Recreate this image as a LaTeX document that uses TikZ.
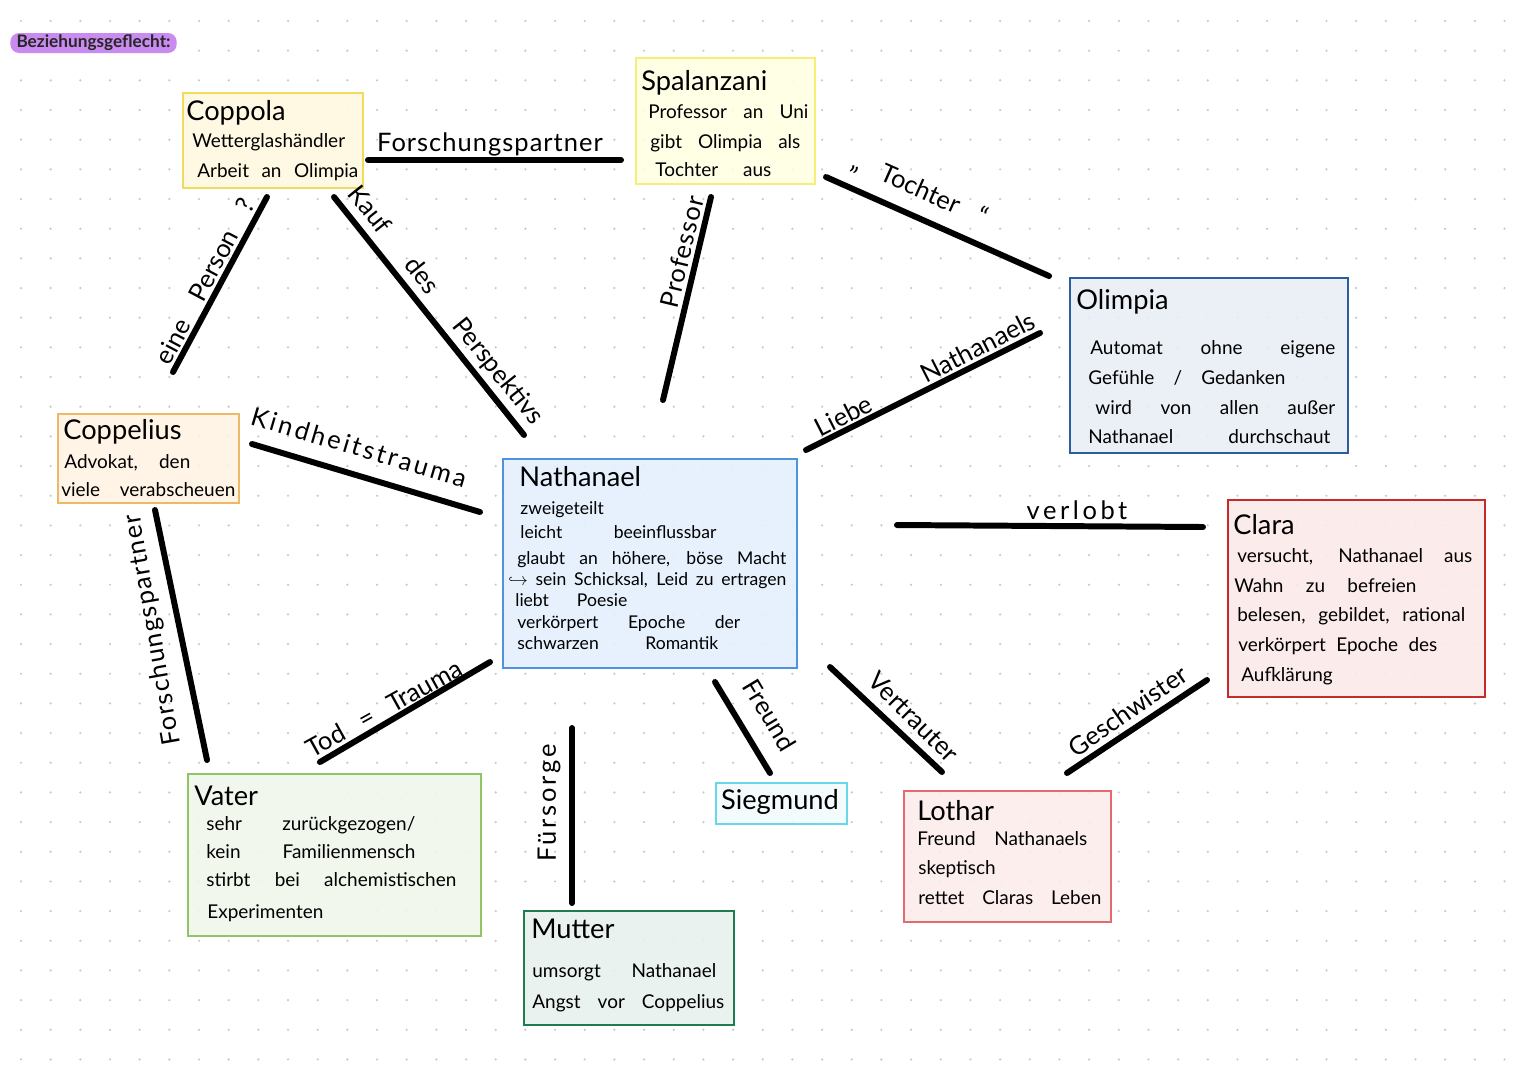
\documentclass[tikz,border=0pt]{standalone}
\usepackage{fontspec}
\setmainfont{Lato}
\newdimen\pxu \pxu=0.02cm
\newcommand{\sw}[2]{\makebox[#1\pxu][s]{#2}}
\newcommand{\lsp}[2]{{\addfontfeatures{LetterSpace=#1}#2}}
\definecolor{dotc}{HTML}{C9C9C9}
\definecolor{pillc}{HTML}{C98BEF}
\definecolor{cpF}{HTML}{FFF9E0}\definecolor{cpD}{HTML}{F2DA5C}
\definecolor{spF}{HTML}{FFFFE3}\definecolor{spD}{HTML}{F6EE78}
\definecolor{olF}{HTML}{E9EEF5}\definecolor{olD}{HTML}{2C5E9E}
\definecolor{ceF}{HTML}{FFF3E3}\definecolor{ceD}{HTML}{EFB866}
\definecolor{naF}{HTML}{E4F0FD}\definecolor{naD}{HTML}{4C95DE}
\definecolor{clF}{HTML}{FCE9E9}\definecolor{clD}{HTML}{C62A2A}
\definecolor{vaF}{HTML}{F1F7EB}\definecolor{vaD}{HTML}{8FC565}
\definecolor{muF}{HTML}{E7F1EC}\definecolor{muD}{HTML}{1F7B52}
\definecolor{siF}{HTML}{F2FBFD}\definecolor{siD}{HTML}{6AD6EC}
\definecolor{loF}{HTML}{FDECEC}\definecolor{loD}{HTML}{E46A72}
\tikzset{
  box/.style={rectangle, anchor=north west, line width=1.1pt, inner sep=0pt, fill opacity=0.88},
  ttl/.style={anchor=base west, inner sep=0pt, font=\fontsize{15.5}{18}\selectfont},
  txt/.style={anchor=base west, inner sep=0pt, font=\fontsize{10.8}{12}\selectfont},
  stxt/.style={anchor=base west, inner sep=0pt, font=\fontsize{10}{11}\selectfont},
  lbl/.style={inner sep=0pt, font=\fontsize{14.5}{16}\selectfont},
  conn/.style={line width=3.4pt, line cap=round, black},
}
\begin{document}
\begin{tikzpicture}[x=0.02cm, y=-0.02cm]
\useasboundingbox (0,0) rectangle (1525,1080);
\fill[white] (0,0) rectangle (1525,1080);
% dot grid
\foreach \i in {0,...,50}{\foreach \j in {0,...,35}{
  \fill[dotc] (21+\i*29.67, 21+\j*29.67) circle[radius=0.7pt];}}
% title pill
\node[fill=pillc, rounded corners=5pt, anchor=west, minimum height=20\pxu, inner xsep=3.5pt, inner ysep=0pt,
  font=\fontsize{9.8}{11}\selectfont\bfseries, text=black!85] (pill) at (10,43) {Beziehungsgeflecht:};

% boxes
\node[box, fill=cpF, draw=cpD, minimum width=180\pxu, minimum height=95\pxu] (coppola) at (182,92) {};
\node[box, fill=spF, draw=spD, minimum width=179\pxu, minimum height=126\pxu] (spal) at (635,57) {};
\node[box, fill=olF, draw=olD, minimum width=278\pxu, minimum height=175\pxu] (olimpia) at (1069,277) {};
\node[box, fill=ceF, draw=ceD, minimum width=181\pxu, minimum height=89\pxu] (coppel) at (57,413) {};
\node[box, fill=naF, draw=naD, minimum width=294\pxu, minimum height=209\pxu] (nath) at (502,458) {};
\node[box, fill=clF, draw=clD, minimum width=257\pxu, minimum height=197\pxu] (clara) at (1227,499) {};
\node[box, fill=vaF, draw=vaD, minimum width=293\pxu, minimum height=162\pxu] (vater) at (187,773) {};
\node[box, fill=muF, draw=muD, minimum width=210\pxu, minimum height=114\pxu] (mutter) at (523,910) {};
\node[box, fill=siF, draw=siD, minimum width=131\pxu, minimum height=41\pxu] (sieg) at (715,782) {};
\node[box, fill=loF, draw=loD, minimum width=207\pxu, minimum height=131\pxu] (lothar) at (903,790) {};

% Coppola text
\node[ttl] (cpT) at (186,120) {Coppola};
\node[txt] (cp1) at (192,147) {Wetterglashändler};
\node[txt] (cp2) at (197,177) {\sw{161}{Arbeit an Olimpia}};
% Spalanzani text
\node[ttl] (spT) at (641,90) {Spalanzani};
\node[txt] (sp1) at (648,118) {\sw{160}{Professor an Uni}};
\node[txt] (sp2) at (650,148) {\sw{150}{gibt Olimpia als}};
\node[txt] (sp3) at (655,176) {\sw{116}{Tochter aus}};
% Olimpia text
\node[ttl] (olT) at (1076,309) {Olimpia};
\node[txt] (ol1) at (1090,354) {\sw{245}{Automat ohne eigene}};
\node[txt] (ol2) at (1088,384) {\sw{197}{Gefühle / Gedanken}};
\node[txt] (ol3) at (1095,414) {\sw{240}{wird von allen außer}};
\node[txt] (ol4) at (1088,443) {\sw{242}{Nathanael durchschaut}};
% Coppelius text
\node[ttl] (ceT) at (63,439) {Coppelius};
\node[txt] (ce1) at (64,468) {\sw{126}{Advokat, den}};
\node[txt] (ce2) at (61,496) {\sw{174}{viele verabscheuen}};
% Nathanael text
\node[ttl] (naT) at (519,486) {Nathanael};
\node[stxt] (na1) at (520,514) {zweigeteilt};
\node[stxt] (na2) at (520,538) {\sw{196}{leicht beeinflussbar}};
\node[stxt] (na3) at (517,564) {\sw{269}{glaubt an höhere, böse Macht}};
\node[stxt] (na4) at (508,585) {\sw{278}{$\hookrightarrow$ sein Schicksal, Leid zu ertragen}};
\node[stxt] (na5) at (515,606) {\sw{112}{liebt Poesie}};
\node[stxt] (na6) at (517,628) {\sw{223}{verkörpert Epoche der}};
\node[stxt] (na7) at (517,649) {\sw{201}{schwarzen Romantik}};
% Clara text
\node[ttl] (clT) at (1233,534) {Clara};
\node[txt] (cl1) at (1237,562) {\sw{235}{versucht, Nathanael aus}};
\node[txt] (cl2) at (1234,592) {\sw{182}{Wahn zu befreien}};
\node[txt] (cl3) at (1237,621) {\sw{228}{belesen, gebildet, rational}};
\node[txt] (cl4) at (1238,651) {\sw{199}{verkörpert Epoche des}};
\node[txt] (cl5) at (1241,681) {Aufklärung};
% Vater text
\node[ttl] (vaT) at (194,805) {Vater};
\node[txt] (va1) at (206,830) {\sw{209}{sehr zurückgezogen/}};
\node[txt] (va2) at (206,858) {\sw{209}{kein Familienmensch}};
\node[txt] (va3) at (206,886) {\sw{250}{stirbt bei alchemistischen}};
\node[txt] (va4) at (207,918) {Experimenten};
% Mutter text
\node[ttl] (muT) at (531,938) {Mutter};
\node[txt] (mu1) at (532,977) {\sw{184}{umsorgt Nathanael}};
\node[txt] (mu2) at (532,1008) {\sw{192}{Angst vor Coppelius}};
% Siegmund text
\node[inner sep=0pt, font=\fontsize{15.5}{18}\selectfont] (siT) at (780,802) {Siegmund};
% Lothar text
\node[ttl] (loT) at (917,820) {Lothar};
\node[txt] (lo1) at (917,845) {\sw{170}{Freund Nathanaels}};
\node[txt] (lo2) at (918,874) {skeptisch};
\node[txt] (lo3) at (918,904) {\sw{183}{rettet Claras Leben}};

% connector end points
\coordinate (a1) at (368,160);  \coordinate (b1) at (621,160);
\coordinate (a2) at (267,197);  \coordinate (b2) at (173,372);
\coordinate (a3) at (334,197);  \coordinate (b3) at (524,435);
\coordinate (a4) at (252,444);  \coordinate (b4) at (480,512);
\coordinate (a5) at (155,510);  \coordinate (b5) at (207,760);
\coordinate (a6) at (711,197);  \coordinate (b6) at (663,400);
\coordinate (a7) at (826,177);  \coordinate (b7) at (1049,276);
\coordinate (a8) at (806,450);  \coordinate (b8) at (1040,333);
\coordinate (a9) at (897,525);  \coordinate (b9) at (1203,527);
\coordinate (a10) at (490,662); \coordinate (b10) at (320,762);
\coordinate (a11) at (572,728); \coordinate (b11) at (572,903);
\coordinate (a12) at (715,682); \coordinate (b12) at (770,773);
\coordinate (a13) at (830,667); \coordinate (b13) at (942,772);
\coordinate (a14) at (1067,773);\coordinate (b14) at (1207,680);
\foreach \k in {1,...,14}{\draw[conn] (a\k) -- (b\k);}

% connector labels
\node[lbl] (l1) at (490,144) {\lsp{4}{Forschungspartner}};
\node[lbl, rotate=62] (l2) at (205,281) {\sw{184}{eine Person ?}};
\node[lbl, rotate=-51.4] (l3) at (445,306) {\sw{297}{Kauf des Perspektivs}};
\node[lbl, rotate=-16.5] (l4) at (359,447) {\lsp{11}{Kindheitstrauma}};
\node[lbl, rotate=100] (l5) at (153,630) {\lsp{6}{Forschungspartner}};
\node[lbl, rotate=76.5] (l6) at (682,252) {\lsp{4}{Professor}};
\node[lbl, rotate=-24] (l7) at (920,190) {\sw{145}{„ Tochter “}};
\node[lbl, rotate=27] (l8) at (925,374) {\sw{243}{Liebe Nathanaels}};
\node[lbl] (l9) at (1077,510) {\lsp{14}{verlobt}};
\node[lbl, rotate=29] (l10) at (384,708) {\sw{174}{Tod = Trauma}};
\node[lbl, rotate=90] (l11) at (549,803) {\lsp{11}{Fürsorge}};
\node[lbl, rotate=-59] (l12) at (770,715) {Freund};
\node[lbl, rotate=-45] (l13) at (914,717) {Vertrauter};
\node[lbl, rotate=35] (l14) at (1128,711) {Geschwister};
\end{tikzpicture}
\end{document}
